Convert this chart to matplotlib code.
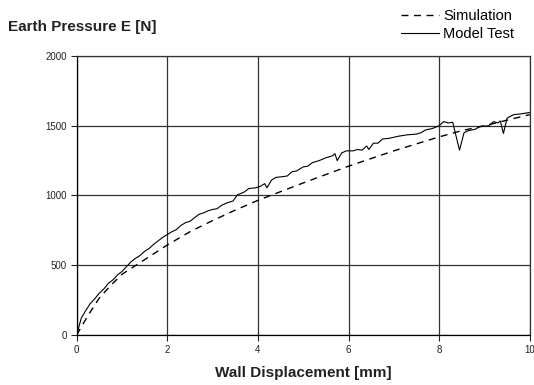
import matplotlib
matplotlib.use('Agg')
import matplotlib.pyplot as plt

plt.rcParams['font.family'] = ['Liberation Sans', 'DejaVu Sans']

# simulation curve (dashed)
sim_x = [0, 0.25, 0.5, 0.75, 1.0, 1.5, 2.0, 2.5, 3.0, 3.5, 4.0, 5.0, 6.0, 7.0, 8.0, 8.5, 9.0, 9.5, 10.0]
sim_y = [0, 140, 265, 355, 435, 540, 645, 740, 820, 895, 965, 1090, 1210, 1320, 1420, 1465, 1500, 1540, 1580]

# model test curve (solid)
test_x = [0, 0.05, 0.1, 0.2, 0.3, 0.4, 0.5, 0.6, 0.7, 0.8, 0.9, 1.0, 1.1, 1.2, 1.3, 1.4, 1.5,
          1.6, 1.7, 1.8, 1.9, 2.0, 2.1, 2.2, 2.3, 2.4, 2.5, 2.6, 2.7, 2.8, 2.9, 3.0, 3.1, 3.2,
          3.3, 3.45, 3.55, 3.7, 3.8, 3.95, 4.05, 4.15, 4.2, 4.3, 4.4, 4.55, 4.65, 4.75, 4.85,
          5.0, 5.1, 5.2, 5.35, 5.5, 5.65, 5.7, 5.75, 5.85, 5.95, 6.1, 6.2, 6.3, 6.4, 6.45, 6.55,
          6.65, 6.75, 6.9, 7.1, 7.3, 7.5, 7.6, 7.7, 7.85, 8.0, 8.1, 8.2, 8.3, 8.45, 8.55, 8.65,
          8.8, 8.9, 9.1, 9.2, 9.3, 9.35, 9.42, 9.5, 9.65, 9.8, 10.0]
test_y = [0, 60, 120, 175, 225, 260, 300, 330, 370, 395, 430, 455, 490, 525, 550, 570, 600,
          620, 650, 675, 700, 720, 740, 755, 785, 805, 815, 840, 865, 875, 890, 900, 905, 930,
          945, 960, 1005, 1025, 1050, 1055, 1065, 1085, 1055, 1110, 1130, 1135, 1140, 1170, 1175,
          1205, 1210, 1235, 1250, 1270, 1285, 1300, 1250, 1305, 1320, 1320, 1330, 1325, 1355, 1330, 1375,
          1375, 1405, 1410, 1425, 1435, 1440, 1450, 1470, 1480, 1500, 1530, 1520, 1525, 1325, 1450, 1465,
          1475, 1495, 1500, 1530, 1520, 1535, 1445, 1555, 1580, 1585, 1595]

x_ticks = [0, 2, 4, 6, 8, 10]
y_ticks = [0, 500, 1000, 1500, 2000]

fig = plt.figure(figsize=(5.34, 3.85), dpi=100)
ax = fig.add_axes([0.1436, 0.13, 0.8484, 0.7245])

ax.plot(sim_x, sim_y, color='black', lw=1.0, ls=(0, (5, 4)), label='Simulation')
ax.plot(test_x, test_y, color='black', lw=0.8, label='Model Test')

ax.set_xlim(0, 10)
ax.set_ylim(0, 2000)
ax.set_xticks(x_ticks)
ax.set_yticks(y_ticks)
ax.grid(True, color='#333333', lw=0.9)
ax.set_axisbelow(True)
for s in ax.spines.values():
    s.set_color('#333333')
    s.set_linewidth(0.9)
ax.spines['left'].set_color('black')
ax.spines['bottom'].set_color('black')
ax.tick_params(direction='out', length=4, width=0.8, labelsize=7, colors='#222222', pad=3)

ax.set_xlabel('Wall Displacement [mm]', fontsize=11, fontweight='bold', labelpad=8, color='#222222')
fig.text(0.015, 0.93, 'Earth Pressure E [N]', fontsize=11, fontweight='bold', color='#222222',
         va='center', ha='left')

fig.legend(loc='upper right', bbox_to_anchor=(0.979, 0.999), frameon=False, fontsize=10.5,
           handlelength=2.6, handletextpad=0.3, labelspacing=0.25, borderaxespad=0.2)

fig.savefig('out.png', dpi=100)
